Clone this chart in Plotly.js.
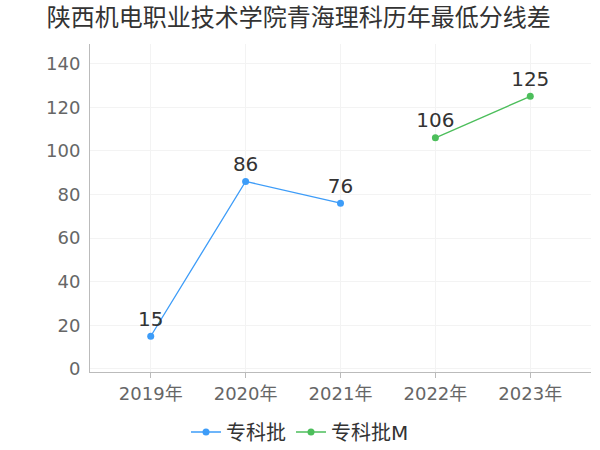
<!DOCTYPE html>
<html>
<head>
<meta charset="utf-8">
<script src="https://cdn.plot.ly/plotly-3.0.1.min.js"></script>
<style>
  html, body { margin: 0; padding: 0; background: #fff; }
  #chart { width: 600px; height: 450px; }
</style>
</head>
<body>
<div id="chart"></div>
<script>
const years = ['2019年', '2020年', '2021年', '2022年', '2023年'];

const seriesA = { name: '专科批', x: ['2019年', '2020年', '2021年'], y: [15, 86, 76], color: '#3d9cf8' };
const seriesB = { name: '专科批M', x: ['2022年', '2023年'], y: [106, 125], color: '#4cbe5b' };

const fontFamily = '"DejaVu Sans", "Noto Sans CJK SC", sans-serif';

const traces = [seriesA, seriesB].map(s => ({
  type: 'scatter',
  mode: 'lines+markers+text',
  name: s.name,
  x: s.x,
  y: s.y,
  text: s.y.map(String),
  textposition: 'top center',
  textfont: { size: 20, color: '#333333', family: fontFamily },
  line: { color: s.color, width: 1.3 },
  marker: { color: s.color, size: 7 },
  cliponaxis: false
}));

const layout = {
  width: 600,
  height: 450,
  paper_bgcolor: '#ffffff',
  plot_bgcolor: '#ffffff',
  font: { family: fontFamily, color: '#666666' },
  title: {
    text: '陕西机电职业技术学院青海理科历年最低分线差',
    x: 0.078,
    xanchor: 'left',
    y: 0.96,
    yanchor: 'middle',
    font: { size: 24, color: '#333333', family: fontFamily }
  },
  margin: { l: 90, r: 9, t: 44, b: 78 },
  xaxis: {
    type: 'category',
    categoryorder: 'array',
    categoryarray: years,
    range: [-0.64, 4.64],
    showgrid: true,
    gridcolor: '#f3f3f3',
    showline: true,
    linecolor: '#bbbbbb',
    linewidth: 1,
    ticks: 'outside',
    ticklen: 5,
    tickcolor: '#bbbbbb',
    tickfont: { size: 18, color: '#666666' },
    zeroline: false
  },
  yaxis: {
    range: [-1.4, 149],
    tickvals: [0, 20, 40, 60, 80, 100, 120, 140],
    showgrid: true,
    gridcolor: '#f3f3f3',
    showline: true,
    linecolor: '#bbbbbb',
    linewidth: 1,
    ticks: '',
    ticklabelstandoff: 5,
    tickfont: { size: 18, color: '#666666' },
    zeroline: false
  },
  showlegend: true,
  legend: {
    orientation: 'h',
    x: 0.5,
    xref: 'container',
    xanchor: 'center',
    y: 0.04,
    yref: 'container',
    yanchor: 'middle',
    font: { size: 20, color: '#333333', family: fontFamily },
    itemwidth: 30,
    tracegroupgap: 0
  }
};

Plotly.newPlot('chart', traces, layout, { displayModeBar: false, staticPlot: true });
</script>
</body>
</html>
